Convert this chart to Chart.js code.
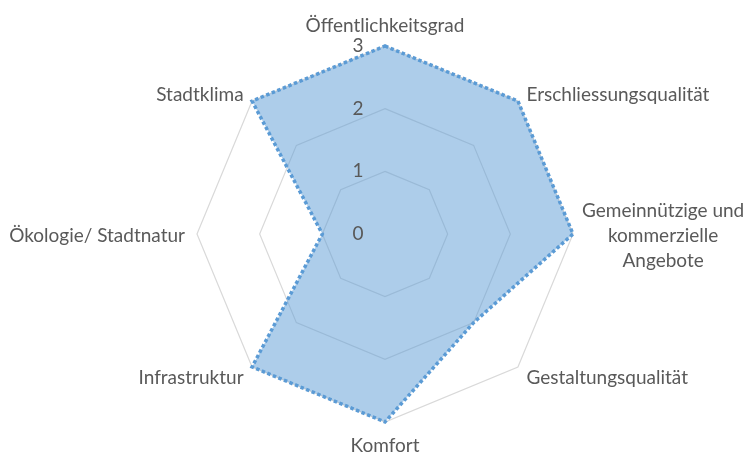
<!DOCTYPE html>
<html>
<head>
<meta charset="utf-8">
<script src="https://cdn.jsdelivr.net/npm/chart.js@4"></script>
<style>
  html, body { margin: 0; padding: 0; background: #fff; }
  canvas { display: block; }
</style>
</head>
<body>
<canvas id="radar" width="746" height="452"></canvas>
<script>
/* ── Radar ── Bewertung Stadtraum ── */
const categories = [
  ['Öffentlichkeitsgrad'],
  ['Erschliessungsqualität'],
  ['Gemeinnützige und', 'kommerzielle', 'Angebote'],
  ['Gestaltungsqualität'],
  ['Komfort'],
  ['Infrastruktur'],
  ['Ökologie/ Stadtnatur'],
  ['Stadtklima'],
];
const values = [3, 3, 3, 2, 3, 3, 1, 3];
const tickLabels = ['0', '1', '2', '3'];

const FONT = '19px Lato, "Open Sans", sans-serif';
const TEXT = '#595959';

// Achsenbeschriftungen + Skalenwerte selbst zeichnen (Excel-Stil)
const labelsPlugin = {
  id: 'excelLabels',
  afterDraw(chart) {
    const s = chart.scales.r;
    const ctx = chart.ctx;
    ctx.save();
    ctx.font = FONT;
    ctx.fillStyle = TEXT;
    ctx.textBaseline = 'middle';

    // Skalenwerte links neben der oberen Achse
    tickLabels.forEach((t, i) => {
      const d = s.getDistanceFromCenterForValue(i);
      ctx.textAlign = 'center';
      ctx.fillText(t, s.xCenter - 27, s.yCenter - d);
    });

    categories.forEach((lines, i) => {
      let p = s.getPointPosition(i, s.drawingArea + 12);
      const dx = p.x - s.xCenter;
      let align = 'center';
      if (dx > 2) align = 'left';
      else if (dx < -2) align = 'right';
      else p = s.getPointPosition(i, s.drawingArea + 22); // oben / unten
      let x = p.x;
      const lh = 25;
      if (lines.length > 1) {
        const w = Math.max(...lines.map(l => ctx.measureText(l).width));
        x = p.x - 3 + w / 2;
        align = 'center';
      }
      ctx.textAlign = align;
      const y0 = p.y - (lines.length - 1) * lh / 2 + 2;
      lines.forEach((l, k) => ctx.fillText(l, x, y0 + k * lh));
    });
    ctx.restore();
  },
};

new Chart(document.getElementById('radar'), {
  type: 'radar',
  data: {
    labels: categories,
    datasets: [{
      data: values,
      backgroundColor: 'rgba(91,155,213,0.5)',
      borderColor: '#5b9bd5',
      borderWidth: 3.5,
      borderDash: [3.5, 2.5],
      borderCapStyle: 'butt',
      pointRadius: 0,
      fill: true,
      tension: 0,
    }],
  },
  options: {
    responsive: false,
    animation: false,
    layout: { padding: { left: 24, right: 0, top: 46, bottom: 30 } },
    plugins: { legend: { display: false }, tooltip: { enabled: false } },
    scales: {
      r: {
        min: 0,
        max: 3,
        ticks: { display: false, stepSize: 1 },
        angleLines: { display: false },
        grid: { circular: false, color: '#d9d9d9', lineWidth: 1.2 },
        pointLabels: { display: false },
      },
    },
  },
  plugins: [labelsPlugin],
});
</script>
</body>
</html>
